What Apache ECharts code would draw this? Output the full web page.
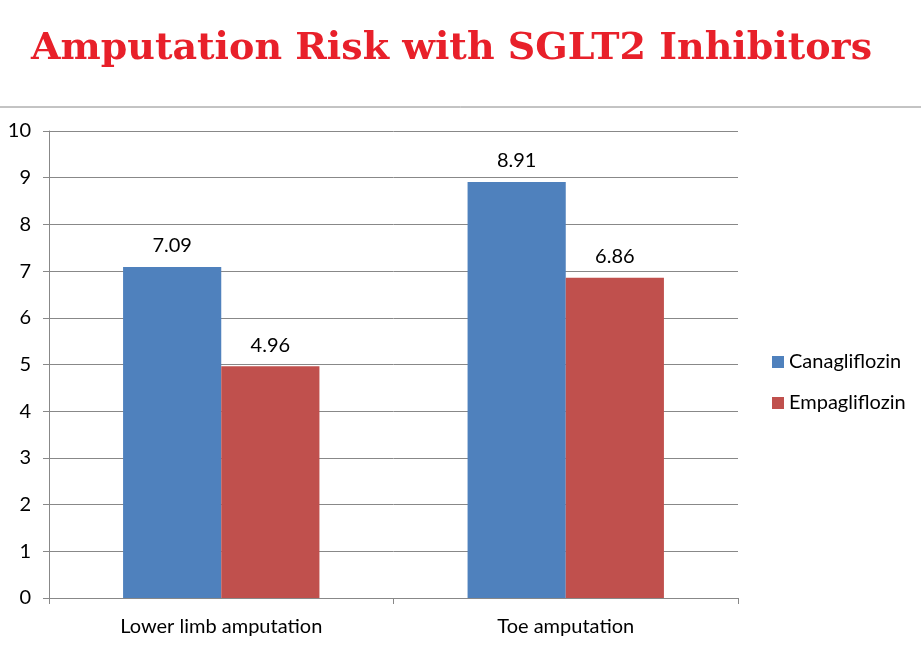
<!DOCTYPE html>
<html><head><meta charset="utf-8">
<script src="https://cdn.jsdelivr.net/npm/echarts@6/dist/echarts.min.js"></script>
<style>html,body{margin:0;padding:0;background:#fff}#c{width:921px;height:649px}</style>
</head><body><div id="c"></div>
<script>
const titleText = 'Amputation Risk with SGLT2 Inhibitors';
const categories = ['Lower limb amputation', 'Toe amputation'];
const seriesNames = ['Canagliflozin', 'Empagliflozin'];
const canagliflozin = [7.09, 8.91];
const empagliflozin = [4.96, 6.86];
const colors = ['#4F81BD', '#C0504D'];
const font = 'Lato, "Open Sans", sans-serif';

const chart = echarts.init(document.getElementById('c'));
const mk = (name, data, color) => ({
  name, type: 'bar', data, barGap: '0%', barCategoryGap: '43%',
  itemStyle: { color },
  label: { show: true, position: 'top', distance: 11, color: '#000', fontSize: 20, fontFamily: font,
           formatter: p => p.value.toFixed(2) }
});
chart.setOption({
  animation: false,
  title: { text: titleText, left: 26, top: 25,
    textStyle: { fontFamily: '"DejaVu Serif", serif', fontWeight: 'bold', fontSize: 38, color: '#E8202A' } },
  graphic: [{ type: 'line', shape: { x1: 0, y1: 107, x2: 921, y2: 107 }, style: { stroke: '#888', lineWidth: 1 } }],
  legend: { orient: 'vertical', left: 767, top: 347, itemWidth: 12, itemHeight: 12, itemGap: 21,
    textStyle: { fontSize: 20, fontFamily: font, color: '#000' },
    data: seriesNames.map((n, i) => ({ name: n, icon: 'rect' })) },
  grid: { left: 49, right: 183, top: 131, bottom: 51, containLabel: false },
  xAxis: { type: 'category', data: categories,
    axisLine: { lineStyle: { color: '#888' } },
    axisTick: { show: true, length: 6, lineStyle: { color: '#888' } },
    axisLabel: { color: '#000', fontSize: 20, fontFamily: font, margin: 19 } },
  yAxis: { type: 'value', min: 0, max: 10, interval: 1,
    axisLine: { show: true, lineStyle: { color: '#888' } },
    axisTick: { show: true, length: 6, lineStyle: { color: '#888' } },
    splitLine: { lineStyle: { color: '#888' } },
    axisLabel: { color: '#000', fontSize: 20, fontFamily: font, margin: 18 } },
  series: [mk(seriesNames[0], canagliflozin, colors[0]), mk(seriesNames[1], empagliflozin, colors[1])]
});
</script></body></html>
